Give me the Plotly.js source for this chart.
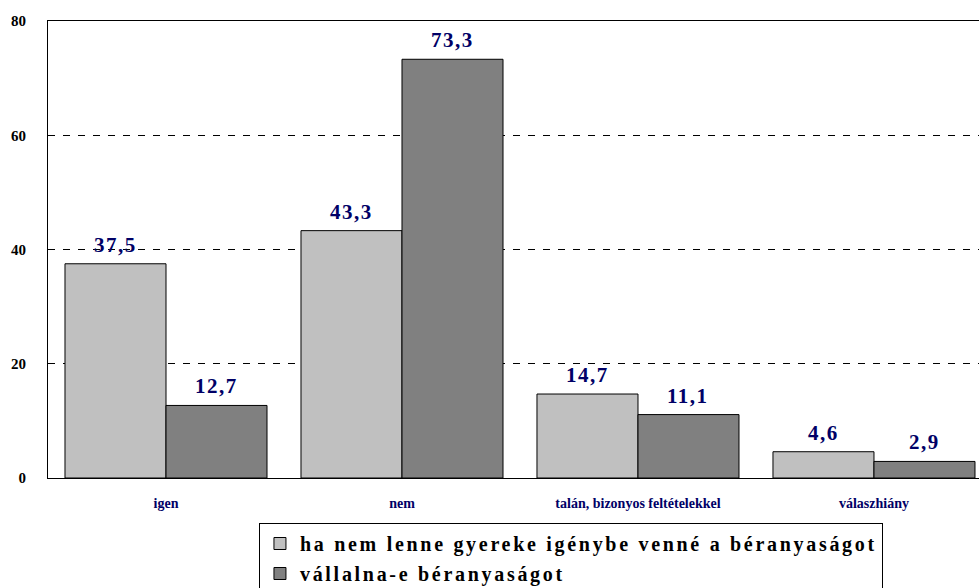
<!DOCTYPE html>
<html>
<head>
<meta charset="utf-8">
<script src="https://cdn.plot.ly/plotly-3.0.1.min.js"></script>
<style>
  html, body { margin: 0; padding: 0; background: #fff; }
  #chart { width: 979px; height: 588px; }
  .legendtext { letter-spacing: 2.7px; }
  .annotation-text { letter-spacing: 1.5px; }
</style>
</head>
<body>
<div id="chart"></div>
<script>
const categories = ["igen", "nem", "talán, bizonyos feltételekkel", "válaszhiány"];
const seriesNames = ["ha nem lenne gyereke igénybe venné a béranyaságot", "vállalna-e béranyaságot"];
const seriesA = [37.5, 43.3, 14.7, 4.6];
const seriesB = [12.7, 73.3, 11.1, 2.9];
const yTicks = [0, 20, 40, 60, 80];

const serif = "Liberation Serif, DejaVu Serif, Times New Roman, serif";
const colors = ["#C0C0C0", "#808080"];
const allSeries = [seriesA, seriesB];

const traces = allSeries.map((vals, i) => ({
  type: "bar",
  name: seriesNames[i],
  x: categories,
  y: vals,
  legendgroup: "g" + i,
  marker: { color: colors[i], line: { color: "#000", width: 1 } },
  hoverinfo: "skip"
}));

const shifts = [-50.5, 50.5];
const annotations = [];
allSeries.forEach((vals, i) => {
  vals.forEach((v, j) => {
    annotations.push({
      x: categories[j], y: v, xref: "x", yref: "y",
      xshift: shifts[i], yshift: 5,
      yanchor: "bottom", xanchor: "center",
      showarrow: false,
      text: "<b>" + v.toFixed(1).replace(".", ",") + "</b>",
      font: { family: serif, size: 21, color: "#000066" }
    });
  });
});

const layout = {
  width: 979, height: 588,
  font: { family: serif },
  margin: { l: 48, r: 0, t: 21, b: 110, autoexpand: false },
  paper_bgcolor: "#fff", plot_bgcolor: "#fff",
  barmode: "group", bargap: 0.144, bargroupgap: 0,
  showlegend: true,
  legend: {
    x: 0.2266, y: -0.0985, xanchor: "left", yanchor: "top",
    orientation: "v", traceorder: "grouped", tracegroupgap: 1,
    bordercolor: "#000", borderwidth: 1, bgcolor: "#fff",
    font: { family: serif, size: 20, color: "#000", weight: "bold" }
  },
  xaxis: {
    type: "category",
    range: [-0.5, 3.445],
    showline: true, linecolor: "#000", linewidth: 1, mirror: true,
    ticks: "", ticklabelstandoff: 12,
    showgrid: false,
    tickfont: { family: serif, size: 14, color: "#000066", weight: "bold" },
    fixedrange: true
  },
  yaxis: {
    range: [0, 80],
    tickvals: yTicks,
    showline: true, linecolor: "#000", linewidth: 1,
    ticks: "", ticklabelstandoff: 18,
    showgrid: true, gridcolor: "#000", gridwidth: 1, griddash: "7px,8px",
    zeroline: false,
    tickfont: { family: serif, size: 15, color: "#000", weight: "bold" },
    fixedrange: true
  },
  annotations: annotations
};

Plotly.newPlot("chart", traces, layout, { displayModeBar: false, staticPlot: true });
</script>
</body>
</html>
